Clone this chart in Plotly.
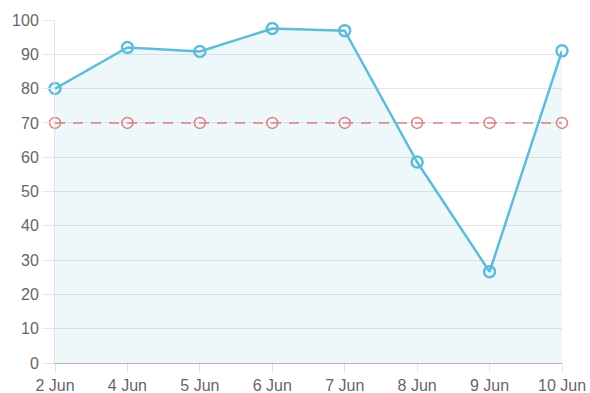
import plotly.graph_objects as go

days = ["2 Jun", "4 Jun", "5 Jun", "6 Jun", "7 Jun", "8 Jun", "9 Jun", "10 Jun"]
scores = [80, 92, 90.8, 97.5, 96.9, 58.6, 26.6, 91]
target = [70, 70, 70, 70, 70, 70, 70, 70]
y_ticks = [0, 10, 20, 30, 40, 50, 60, 70, 80, 90, 100]

blue = "#5dbdd9"
red = "#dd7f82"

fig = go.Figure()

fig.add_trace(go.Scatter(
    x=days, y=scores,
    mode="lines+markers",
    line=dict(color=blue, width=2.5),
    marker=dict(symbol="circle-open", size=11, color=blue, line=dict(width=2.5, color=blue)),
    fill="tozeroy",
    fillcolor="rgba(93,189,217,0.10)",
    cliponaxis=False,
    showlegend=False,
))

fig.add_trace(go.Scatter(
    x=days, y=target,
    mode="lines+markers",
    line=dict(color=red, width=1.5, dash="10px,8px"),
    marker=dict(symbol="circle-open", size=11, color=red, line=dict(width=1.5, color=red)),
    cliponaxis=False,
    showlegend=False,
))

fig.update_layout(
    width=590, height=393,
    margin=dict(l=55, r=28, t=20, b=30),
    paper_bgcolor="white",
    plot_bgcolor="white",
    font=dict(family="Liberation Sans, Arial, sans-serif", size=16, color="#666666"),
    xaxis=dict(
        type="category",
        range=[0, len(days) - 1],
        automargin=False,
        showgrid=False,
        showline=True, linecolor="#b5b5b5", linewidth=1,
        ticks="outside", ticklen=8, tickcolor="#e2e2e2", tickwidth=1,
        fixedrange=True,
    ),
    yaxis=dict(
        range=[0, 100],
        tickvals=y_ticks,
        automargin=False,
        showgrid=True, gridcolor="#e6e6e6", gridwidth=1,
        showline=True, linecolor="#e2e2e2", linewidth=1,
        ticks="outside", ticklen=12, tickcolor="#e6e6e6", tickwidth=1,
        zeroline=False,
        fixedrange=True,
    ),
)

fig.write_html("out.html")
